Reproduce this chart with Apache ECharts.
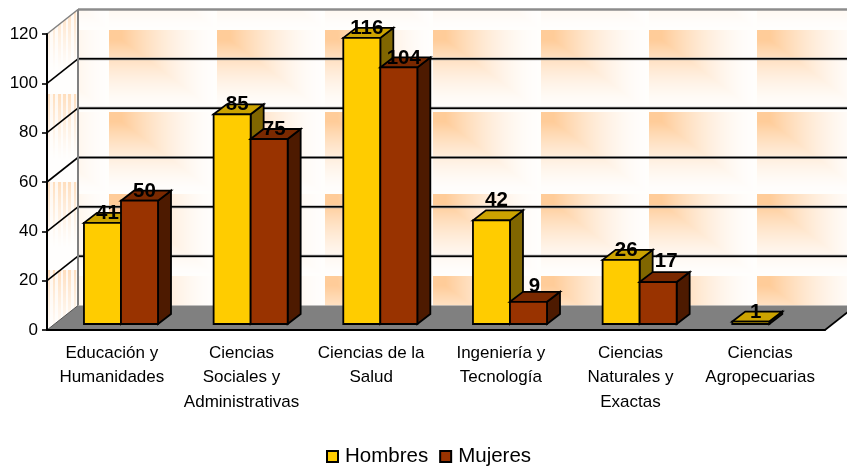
<!DOCTYPE html>
<html>
<head>
<meta charset="utf-8">
<style>html,body{margin:0;padding:0;background:#fff}#c{width:847px;height:466px}</style>
<script src="https://cdn.jsdelivr.net/npm/echarts@6/dist/echarts.min.js"></script>
</head>
<body>
<div id="c"></div>
<script>
const categories = ['Educación y\nHumanidades','Ciencias\nSociales y\nAdministrativas','Ciencias de la\nSalud','Ingeniería y\nTecnología','Ciencias\nNaturales y\nExactas','Ciencias\nAgropecuarias'];
const hombres = [41, 85, 116, 42, 26, 1];
const mujeres = [50, 75, 104, 9, 17, null];
const yTicks = [0, 20, 40, 60, 80, 100, 120];

const DX = 31, DY = 24.5;           // wall depth
const BDX = 13, BDY = 10, BASE = 6; // bar depth
const labelFont = 'bold 20.5px "Liberation Sans", Arial, sans-serif';
const font = '"Liberation Sans", Arial, sans-serif';
// labels the original chart nudged away from their default spot: [dx, dy]
const labelNudge = { '0-3': [0, -11], '1-3': [1, -6], '1-4': [3, -11] };
const faces = [
  { front: '#FFCC00', top: '#CCA300', side: '#806600' },
  { front: '#993300', top: '#7A2900', side: '#4D1A00' }
];

function backTile() {
  const W = 108, H = 82, cv = document.createElement('canvas');
  cv.width = W; cv.height = H;
  const ctx = cv.getContext('2d'), img = ctx.createImageData(W, H);
  for (let py = 0; py < H; py++) for (let px = 0; px < W; px++) {
    const u = (px - 1 + W) % W, v = (py - 30 + H * 2) % H;
    const t = Math.max(u / W, v / H);
    const k = Math.max(0, Math.min(1, (t - 0.1) / 0.9));
    const f = Math.min(1, Math.pow(1 - k, 1.7) + 0.025);
    const i = (py * W + px) * 4;
    img.data[i] = 255;
    img.data[i + 1] = Math.round(255 - 51 * f);
    img.data[i + 2] = Math.round(255 - 102 * f);
    img.data[i + 3] = 255;
  }
  ctx.putImageData(img, 0, 0);
  return cv;
}
function sideTile() {
  const W = 31, H = 88, cv = document.createElement('canvas');
  cv.width = W; cv.height = H;
  const ctx = cv.getContext('2d'), img = ctx.createImageData(W, H);
  for (let py = 0; py < H; py++) for (let px = 0; px < W; px++) {
    const u = (px - 47 + W * 3) % W, v = (py - 6 + H) % H;
    const on = (u % 5.2) < 2.6;
    const f = (on ? 0.62 : 0.12) * Math.pow(Math.max(0, 1 - v / 66), 1.3) + 0.02;
    const i = (py * W + px) * 4;
    img.data[i] = 255;
    img.data[i + 1] = Math.round(255 - 51 * f);
    img.data[i + 2] = Math.round(255 - 102 * f);
    img.data[i + 3] = 255;
  }
  ctx.putImageData(img, 0, 0);
  return cv;
}
const backPattern = { image: backTile(), repeat: 'repeat' };
const sidePattern = { image: sideTile(), repeat: 'repeat' };

function poly(points, fill, stroke, lw) {
  return { type: 'polygon', shape: { points }, style: { fill: fill, stroke: stroke || null, lineWidth: lw || 0 } };
}
function line(a, b, stroke, lw) {
  return { type: 'line', shape: { x1: a[0], y1: a[1], x2: b[0], y2: b[1] }, style: { stroke, lineWidth: lw, fill: null } };
}
function renderWalls(params, api) {
  const left = api.coord([0, 0])[0] - api.size([1, 0])[0] / 2;
  const right = left + api.size([1, 0])[0] * categories.length;
  const y0 = api.coord([0, 0])[1], yMax = api.coord([0, 120])[1];
  const ch = [];
  ch.push(poly([[left + DX, yMax - DY], [right + DX, yMax - DY], [right + DX, y0 - DY], [left + DX, y0 - DY]], backPattern));
  ch.push(poly([[left, y0], [left + DX, y0 - DY], [left + DX, yMax - DY], [left, yMax]], sidePattern));
  ch.push(poly([[left, y0], [left + DX, y0 - DY], [right + DX, y0 - DY], [right, y0]], '#808080'));
  yTicks.forEach(function (t) {
    if (t === 0) return;
    const y = api.coord([0, t])[1];
    if (t === 120) {
      ch.push(line([left, y], [left + DX, y - DY], '#808080', 1.5));
      ch.push(line([left + DX, y - DY], [right + DX, y - DY], '#8c8c8c', 2.5));
    } else {
      ch.push(line([left + DX, y - DY], [right + DX, y - DY], '#9a9a9a', 2.6));
      ch.push(line([left + DX, y - DY], [right + DX, y - DY], '#000', 1.5));
      ch.push(line([left, y], [left + DX, y - DY], '#000', 1.6));
    }
  });
  ch.push(line([left + DX, yMax - DY], [left + DX, y0 - DY], '#808080', 2));
  ch.push(line([left, y0], [left + DX, y0 - DY], '#555', 1));
  ch.push(line([right, y0], [right + DX, y0 - DY], '#000', 1.6));
  return { type: 'group', children: ch };
}
function renderBars(s) {
  return function (params, api) {
    const i = api.value(0), v = api.value(1);
    if (v == null || isNaN(v)) return null;
    const band = api.size([1, 0])[0];
    const w = band * 0.2855;
    const x0 = api.coord([i, 0])[0] - band / 2 + band * 0.285 + s * w;
    const x1 = x0 + w;
    const yb = api.coord([i, 0])[1] - BASE;
    const yt = api.coord([i, v])[1] - BASE;
    const c = faces[s], lw = 1.8, k = '#000';
    const n = labelNudge[s + '-' + i] || [0, 0];
    return {
      type: 'group',
      children: [
        poly([[x1, yb], [x1 + BDX, yb - BDY], [x1 + BDX, yt - BDY], [x1, yt]], c.side, k, lw),
        poly([[x0, yt], [x0 + BDX, yt - BDY], [x1 + BDX, yt - BDY], [x1, yt]], c.top, k, lw),
        poly([[x0, yb], [x1, yb], [x1, yt], [x0, yt]], c.front, k, lw),
        { type: 'text', z2: 50, style: { text: String(v), x: (x0 + x1) / 2 + 5 + n[0], y: yt - 9.5 + n[1], font: labelFont, fill: '#000', align: 'center', verticalAlign: 'middle' } }
      ]
    };
  };
}
const chart = echarts.init(document.getElementById('c'), null, { renderer: 'canvas' });
chart.setOption({
  animation: false,
  backgroundColor: '#fff',
  grid: { left: 47, right: 22, top: 34, bottom: 136, containLabel: false },
  legend: {
    data: ['Hombres', 'Mujeres'], bottom: -1, left: 326, icon: 'rect',
    itemWidth: 11, itemHeight: 11, itemGap: 11, selectedMode: false, padding: 0,
    textStyle: { fontFamily: font, fontSize: 20.5, color: '#000', padding: [0, 0, 0, 2] }
  },
  xAxis: {
    type: 'category', data: categories, z: 3,
    axisLine: { lineStyle: { color: '#000', width: 2 } },
    axisTick: { alignWithLabel: false, length: 6, lineStyle: { color: '#000', width: 1.6 } },
    axisLabel: { fontFamily: font, fontSize: 17, color: '#000', lineHeight: 24.5, margin: 11, interval: 0 },
    splitLine: { show: false }
  },
  yAxis: {
    type: 'value', min: 0, max: 120, interval: 20, z: 3,
    axisLine: { show: true, lineStyle: { color: '#000', width: 2 } },
    axisTick: { show: true, length: 5, lineStyle: { color: '#000', width: 1.6 } },
    axisLabel: { fontFamily: font, fontSize: 17, color: '#000', margin: 9 },
    splitLine: { show: false }
  },
  series: [
    { type: 'custom', name: 'walls', z: 1, silent: true, clip: false, renderItem: renderWalls, data: [[0, 0]], encode: { x: 0, y: 1 } },
    { type: 'custom', name: 'Hombres', z: 4, clip: false, renderItem: renderBars(0), itemStyle: { color: faces[0].front, borderColor: '#000', borderWidth: 1.5 }, encode: { x: 0, y: 1 }, data: hombres.map((v, i) => [i, v]) },
    { type: 'custom', name: 'Mujeres', z: 5, clip: false, renderItem: renderBars(1), itemStyle: { color: faces[1].front, borderColor: '#000', borderWidth: 1.5 }, encode: { x: 0, y: 1 }, data: mujeres.map((v, i) => [i, v]) }
  ]
});
</script>
</body>
</html>
